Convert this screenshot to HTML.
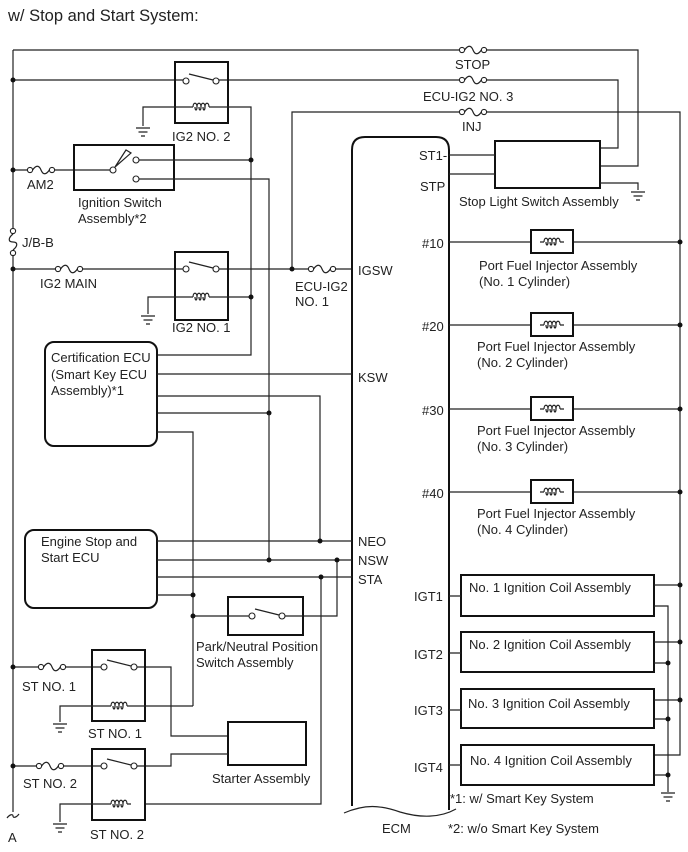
<!DOCTYPE html>
<html><head><meta charset="utf-8"><style>
html,body{margin:0;padding:0;background:#fff}
svg{display:block}
text{font-family:"Liberation Sans",Arial,sans-serif;font-size:13px;fill:#222}
.l{stroke:#222;stroke-width:1.2;fill:none}
.b{stroke:#111;stroke-width:2;fill:none}
.d{fill:#111}
</style></head><body>
<svg width="688" height="852" viewBox="0 0 688 852" xmlns="http://www.w3.org/2000/svg">
<defs>
<g id="fh"><circle cx="3" cy="0" r="2.6" fill="#fff" stroke="#222" stroke-width="1.1"/><circle cx="25" cy="0" r="2.6" fill="#fff" stroke="#222" stroke-width="1.1"/><path d="M5.6,0 C9,-5 12,-5 14,0 C16,5 19,5 22.4,0" class="l"/></g>
<g id="coil"><path d="M-12,0 L-8,0 M8,0 L12,0 M-8,0 c0,-5 4,-5 4,0 c0,4 -2,4 -2,0 M-4,0 c0,-5 4,-5 4,0 c0,4 -2,4 -2,0 M0,0 c0,-5 4,-5 4,0 c0,4 -2,4 -2,0 M4,0 c0,-5 4,-5 4,0" class="l"/></g>
<g id="gnd"><path d="M-7,0 H7 M-4.5,4 H4.5 M-2,8 H2" class="l"/></g>
<g id="sw"><circle cx="0" cy="0" r="3" fill="#fff" stroke="#222" stroke-width="1.1"/><circle cx="30" cy="0" r="3" fill="#fff" stroke="#222" stroke-width="1.1"/><path d="M3,-7 L27,-1" class="l"/></g>
</defs>

<text x="8" y="21" style="font-size:16.5px">w/ Stop and Start System:</text>

<path class="l" d="M13,50 V228 M13,256 V812"/>
<circle cx="13" cy="231" r="2.6" fill="#fff" stroke="#222" stroke-width="1.1"/>
<circle cx="13" cy="253" r="2.6" fill="#fff" stroke="#222" stroke-width="1.1"/>
<path class="l" d="M13,234 C8,238 8,242 13,242 C18,242 18,246 13,250"/>
<text x="22" y="247">J/B-B</text>
<path class="l" d="M7,818 C10,814 13,814 13,816 C13,818 16,818 19,814"/>
<text x="8" y="842">A</text>

<path class="l" d="M13,50 H459 M487,50 H638 V166 H600"/>
<use href="#fh" x="459" y="50"/>
<text x="455" y="69">STOP</text>

<path class="l" d="M13,80 H186 M216,80 H459 M487,80 H618 V148 H600"/>
<use href="#fh" x="459" y="80"/>
<text x="423" y="101">ECU-IG2 NO. 3</text>
<circle class="d" cx="13" cy="80" r="2.5"/>
<rect class="b" x="175" y="62" width="53" height="61"/>
<use href="#sw" x="186" y="81"/>
<use href="#coil" x="201" y="107"/>
<path class="l" d="M189,107 H143 V126 M213,107 H251 V355 H157"/>
<use href="#gnd" x="143" y="128"/>
<text x="172" y="141">IG2 NO. 2</text>

<path class="l" d="M292,269 V112 H459 M487,112 H680 V755 H654"/>
<use href="#fh" x="459" y="112"/>
<text x="462" y="131">INJ</text>

<path class="l" d="M13,170 H27 M55,170 H110"/>
<use href="#fh" x="27" y="170"/>
<circle class="d" cx="13" cy="170" r="2.5"/>
<text x="27" y="189">AM2</text>
<rect class="b" x="74" y="145" width="100" height="45"/>
<circle cx="113" cy="170" r="3" fill="#fff" stroke="#222" stroke-width="1.1"/>
<path class="l" d="M115,167 L126,150 L131,153 Z"/>
<circle cx="136" cy="160" r="3" fill="#fff" stroke="#222" stroke-width="1.1"/>
<circle cx="136" cy="179" r="3" fill="#fff" stroke="#222" stroke-width="1.1"/>
<path class="l" d="M139,160 H251 M139,179 H269 V413 H157"/>
<circle class="d" cx="251" cy="160" r="2.5"/>
<text x="78" y="207">Ignition Switch</text>
<text x="78" y="223">Assembly*2</text>

<path class="l" d="M13,269 H55 M83,269 H186 M216,269 H308 M336,269 H352"/>
<use href="#fh" x="55" y="269"/>
<circle class="d" cx="13" cy="269" r="2.5"/>
<text x="40" y="288">IG2 MAIN</text>
<rect class="b" x="175" y="252" width="53" height="68"/>
<use href="#sw" x="186" y="269"/>
<use href="#coil" x="201" y="297"/>
<path class="l" d="M189,297 H148 V314 M213,297 H251"/>
<use href="#gnd" x="148" y="316"/>
<circle class="d" cx="251" cy="297" r="2.5"/>
<text x="172" y="332">IG2 NO. 1</text>
<circle class="d" cx="292" cy="269" r="2.5"/>
<use href="#fh" x="308" y="269"/>
<text x="295" y="291">ECU-IG2</text>
<text x="295" y="306">NO. 1</text>

<path class="b" d="M352,806 V150 Q352,137 365,137 H436 Q449,137 449,150 V810"/>
<path class="l" d="M344,813 C365,804 380,805 400,812 C420,818 440,818 456,809"/>
<text x="382" y="833">ECM</text>
<text x="419" y="160">ST1-</text>
<text x="420" y="191">STP</text>
<text x="358" y="275">IGSW</text>
<text x="358" y="382">KSW</text>
<text x="358" y="546">NEO</text>
<text x="358" y="565">NSW</text>
<text x="358" y="584">STA</text>
<text x="422" y="248">#10</text>
<text x="422" y="331">#20</text>
<text x="422" y="415">#30</text>
<text x="422" y="498">#40</text>
<text x="414" y="601">IGT1</text>
<text x="414" y="659">IGT2</text>
<text x="414" y="715">IGT3</text>
<text x="414" y="772">IGT4</text>

<rect class="b" x="495" y="141" width="105" height="47"/>
<path class="l" d="M449,155 H495 M449,174 H495 M600,183 H638 V190"/>
<use href="#gnd" x="638" y="192"/>
<text x="459" y="206">Stop Light Switch Assembly</text>

<g>
<path class="l" d="M449,242 H531 M573,242 H680"/><rect class="b" x="531" y="230" width="42" height="23"/><use href="#coil" x="552" y="242"/><circle class="d" cx="680" cy="242" r="2.5"/>
<text x="479" y="270">Port Fuel Injector Assembly</text><text x="479" y="286">(No. 1 Cylinder)</text>
<path class="l" d="M449,325 H531 M573,325 H680"/><rect class="b" x="531" y="313" width="42" height="23"/><use href="#coil" x="552" y="325"/><circle class="d" cx="680" cy="325" r="2.5"/>
<text x="477" y="351">Port Fuel Injector Assembly</text><text x="477" y="367">(No. 2 Cylinder)</text>
<path class="l" d="M449,409 H531 M573,409 H680"/><rect class="b" x="531" y="397" width="42" height="23"/><use href="#coil" x="552" y="409"/><circle class="d" cx="680" cy="409" r="2.5"/>
<text x="477" y="435">Port Fuel Injector Assembly</text><text x="477" y="451">(No. 3 Cylinder)</text>
<path class="l" d="M449,492 H531 M573,492 H680"/><rect class="b" x="531" y="480" width="42" height="23"/><use href="#coil" x="552" y="492"/><circle class="d" cx="680" cy="492" r="2.5"/>
<text x="477" y="518">Port Fuel Injector Assembly</text><text x="477" y="534">(No. 4 Cylinder)</text>
</g>

<rect class="b" x="461" y="575" width="193" height="41"/>
<rect class="b" x="461" y="632" width="193" height="40"/>
<rect class="b" x="461" y="689" width="193" height="39"/>
<rect class="b" x="461" y="745" width="193" height="40"/>
<text x="469" y="592">No. 1 Ignition Coil Assembly</text>
<text x="469" y="649">No. 2 Ignition Coil Assembly</text>
<text x="468" y="708">No. 3 Ignition Coil Assembly</text>
<text x="470" y="765">No. 4 Ignition Coil Assembly</text>
<path class="l" d="M449,596 H461 M449,653 H461 M449,710 H461 M449,765 H461"/>
<path class="l" d="M654,585 H680 M654,642 H680 M654,700 H680 M654,606 H668 V792 M654,663 H668 M654,719 H668 M654,775 H668"/>
<circle class="d" cx="680" cy="585" r="2.5"/><circle class="d" cx="680" cy="642" r="2.5"/><circle class="d" cx="680" cy="700" r="2.5"/>
<circle class="d" cx="668" cy="663" r="2.5"/><circle class="d" cx="668" cy="719" r="2.5"/><circle class="d" cx="668" cy="775" r="2.5"/>
<use href="#gnd" x="668" y="793"/>
<text x="450" y="803">*1: w/ Smart Key System</text>
<text x="448" y="833">*2: w/o Smart Key System</text>

<rect class="b" x="45" y="342" width="112" height="104" rx="9"/>
<text x="51" y="362">Certification ECU</text>
<text x="51" y="379">(Smart Key ECU</text>
<text x="51" y="395">Assembly)*1</text>
<path class="l" d="M157,374 H352 M157,396 H320 V541 M157,432 H193 V706"/>
<circle class="d" cx="269" cy="413" r="2.5"/>

<rect class="b" x="25" y="530" width="132" height="78" rx="9"/>
<text x="41" y="546">Engine Stop and</text>
<text x="41" y="562">Start ECU</text>
<path class="l" d="M157,541 H352 M157,560 H352 M157,577 H352 M157,595 H193 M269,413 V560 M321,577 V804 H145 M337,560 V616 H303 M193,616 H228"/>
<circle class="d" cx="320" cy="541" r="2.5"/>
<circle class="d" cx="269" cy="560" r="2.5"/>
<circle class="d" cx="337" cy="560" r="2.5"/>
<circle class="d" cx="321" cy="577" r="2.5"/>
<circle class="d" cx="193" cy="595" r="2.5"/>
<circle class="d" cx="193" cy="616" r="2.5"/>
<rect class="b" x="228" y="597" width="75" height="38"/>
<use href="#sw" x="252" y="616"/>
<path class="l" d="M228,616 H249 M285,616 H303"/>
<text x="196" y="651">Park/Neutral Position</text>
<text x="196" y="667">Switch Assembly</text>

<path class="l" d="M13,667 H38 M66,667 H101 M134,667 H171 V736 H228"/>
<use href="#fh" x="38" y="667"/>
<circle class="d" cx="13" cy="667" r="2.5"/>
<text x="22" y="691">ST NO. 1</text>
<rect class="b" x="92" y="650" width="53" height="71"/>
<use href="#sw" x="104" y="667"/>
<use href="#coil" x="119" y="706"/>
<path class="l" d="M107,706 H60 V722 M131,706 H193"/>
<use href="#gnd" x="60" y="724"/>
<text x="88" y="738">ST NO. 1</text>

<rect class="b" x="228" y="722" width="78" height="43"/>
<text x="212" y="783">Starter Assembly</text>

<path class="l" d="M13,766 H36 M64,766 H101 M134,766 H171 V754 H228"/>
<use href="#fh" x="36" y="766"/>
<circle class="d" cx="13" cy="766" r="2.5"/>
<text x="23" y="788">ST NO. 2</text>
<rect class="b" x="92" y="749" width="53" height="71"/>
<use href="#sw" x="104" y="766"/>
<use href="#coil" x="119" y="804"/>
<path class="l" d="M107,804 H60 V822"/>
<use href="#gnd" x="60" y="824"/>
<text x="90" y="839">ST NO. 2</text>
</svg>
</body></html>
